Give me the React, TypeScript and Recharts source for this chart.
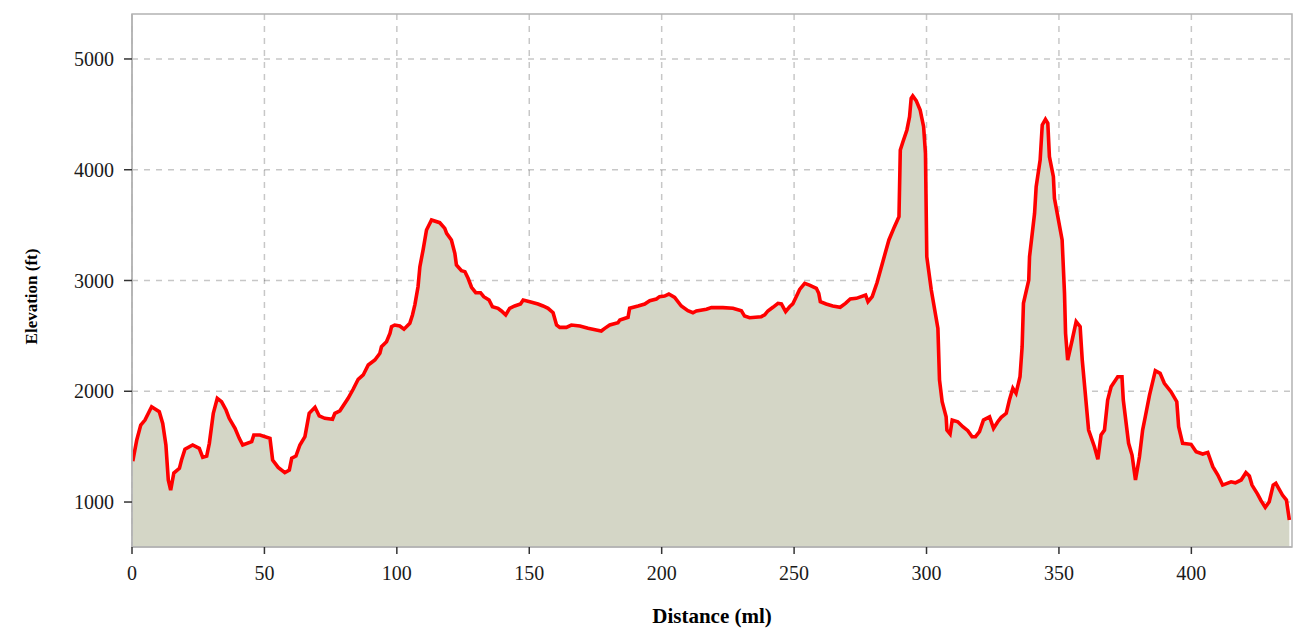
import React from "react";
import {
  AreaChart,
  Area,
  XAxis,
  YAxis,
  CartesianGrid,
  ReferenceArea,
} from "recharts";

// distance along the route (miles)
const distance = [
  0.3, 1.8, 3.3, 4.9, 7.4, 10.3, 11.6, 12.8, 13.7, 14.6, 15.8, 17.9, 18.7, 20.0,
  22.9, 25.4, 26.7, 28.2, 29.2, 30.7, 32.2, 33.8, 35.5, 36.7, 38.9, 40.5, 41.8,
  45.2, 46.0, 48.3, 52.1, 53.1, 55.2, 57.7, 59.4, 60.3, 61.9, 63.4, 65.3, 66.9,
  69.1, 70.7, 72.8, 75.7, 76.6, 78.5, 81.6, 83.5, 85.4, 87.3, 89.2, 91.7, 93.6,
  94.2, 96.1, 97.4, 98.0, 99.2, 101.1, 102.7, 104.9, 105.9, 106.8, 108.0, 108.7,
  109.9, 111.2, 113.1, 116.2, 118.1, 118.8, 120.6, 121.9, 122.5, 124.4, 125.7,
  126.9, 128.2, 129.8, 131.6, 132.8, 134.8, 136.1, 138.2, 139.5, 141.1, 142.6,
  144.5, 146.7, 147.7, 150.2, 153.3, 155.2, 157.1, 159.0, 160.3, 161.5, 164.0,
  165.9, 169.1, 172.2, 175.3, 177.2, 178.5, 180.4, 183.5, 184.2, 187.3, 187.9,
  191.1, 193.6, 195.5, 198.0, 199.2, 201.1, 202.7, 204.9, 207.4, 209.9, 211.8,
  213.1, 216.9, 218.8, 223.1, 226.9, 230.1, 231.3, 233.2, 237.6, 238.9, 240.1,
  242.0, 243.9, 245.2, 246.8, 248.3, 249.5, 250.8, 252.1, 254.0, 255.8, 258.4,
  259.3, 259.9, 262.1, 264.6, 267.4, 269.4, 271.2, 273.5, 277.0, 277.9, 279.5,
  281.3, 283.5, 285.8, 287.9, 289.6, 290.1, 291.1, 292.6, 293.6, 294.2, 294.8,
  296.1, 297.6, 298.9, 299.6, 300.1, 301.8, 304.3, 304.9, 305.9, 307.4, 307.7,
  308.9, 309.7, 311.8, 313.7, 315.6, 317.2, 318.5, 320.0, 321.5, 323.8, 325.3,
  326.9, 328.2, 330.1, 331.3, 332.6, 333.8, 335.3, 336.1, 336.6, 338.6, 338.9,
  340.8, 341.4, 342.9, 343.7, 344.9, 345.8, 346.4, 347.9, 348.3, 351.2, 352.1,
  352.5, 353.3, 355.0, 356.5, 358.0, 358.8, 361.2, 363.4, 364.7, 365.9, 367.2,
  368.4, 369.7, 372.2, 373.8, 374.3, 376.3, 377.6, 378.9, 380.4, 381.6, 382.6,
  384.2, 386.4, 388.2, 389.8, 392.3, 394.5, 395.2, 396.7, 399.9, 401.8, 404.3,
  406.2, 408.1, 410.0, 411.8, 415.0, 416.6, 418.8, 420.6, 421.9, 422.9, 425.0,
  426.3, 427.9, 429.4, 430.9, 431.9, 434.4, 435.9, 437.0,
];

// elevation (feet)
const elevation = [
  1370, 1560, 1695, 1740, 1860, 1815, 1710, 1515, 1199, 1108, 1262, 1304, 1379,
  1476, 1515, 1485, 1404, 1415, 1530, 1801, 1936, 1906, 1831, 1756, 1665, 1575,
  1515, 1545, 1605, 1605, 1575, 1379, 1313, 1265, 1289, 1395, 1415, 1515, 1590,
  1801, 1855, 1777, 1756, 1747, 1801, 1824, 1936, 2018, 2108, 2147, 2237, 2282,
  2343, 2402, 2447, 2523, 2583, 2598, 2589, 2560, 2613, 2689, 2780, 2944, 3125,
  3275, 3456, 3546, 3522, 3471, 3426, 3366, 3246, 3140, 3089, 3080, 3020, 2939,
  2890, 2890, 2854, 2824, 2763, 2749, 2725, 2689, 2749, 2770, 2788, 2824, 2809,
  2788, 2770, 2749, 2709, 2598, 2577, 2577, 2598, 2589, 2568, 2553, 2544, 2568,
  2598, 2619, 2643, 2668, 2749, 2770, 2788, 2818, 2833, 2854, 2860, 2878, 2848,
  2770, 2727, 2709, 2725, 2740, 2755, 2755, 2749, 2727, 2679, 2664, 2673, 2689,
  2725, 2758, 2794, 2788, 2719, 2763, 2788, 2854, 2920, 2975, 2959, 2930, 2885,
  2809, 2788, 2770, 2758, 2794, 2833, 2839, 2869, 2809, 2854, 2980, 3170, 3366,
  3486, 3576, 4178, 4253, 4359, 4479, 4645, 4666, 4624, 4540, 4389, 4148, 3215,
  2914, 2568, 2102, 1906, 1770, 1650, 1614, 1740, 1725, 1680, 1644, 1590, 1590,
  1635, 1740, 1770, 1665, 1725, 1765, 1801, 1921, 2027, 1982, 2131, 2402, 2794,
  3004, 3215, 3607, 3847, 4088, 4404, 4455, 4419, 4118, 3937, 3742, 3366, 2884,
  2523, 2282, 2463, 2628, 2583, 2282, 1650, 1499, 1386, 1605, 1650, 1921, 2041,
  2131, 2131, 1921, 1530, 1424, 1199, 1409, 1650, 1770, 1966, 2186, 2162, 2072,
  1996, 1906, 1680, 1530, 1521, 1454, 1433, 1448, 1319, 1244, 1153, 1183, 1174,
  1199, 1265, 1235, 1153, 1072, 1012, 952, 1003, 1153, 1169, 1063, 1018, 837,
];

const xTicks = [0, 50, 100, 150, 200, 250, 300, 350, 400];
const yTicks = [1000, 2000, 3000, 4000, 5000];
const xDomain = [0, 438];
const yDomain = [594, 5406];

const data = distance.map((d, i) => ({ dist: d, elev: elevation[i] }));

const font = "'Liberation Serif', 'Times New Roman', serif";

// y axis title, a bit below the middle of the plot like the original
const YTitle = (props: any) => {
  const { viewBox } = props;
  const cx = viewBox.x + 31;
  const cy = viewBox.y + viewBox.height / 2 + 16;
  return (
    <text
      x={cx}
      y={cy}
      transform={`rotate(-90, ${cx}, ${cy})`}
      textAnchor="middle"
      dominantBaseline="central"
      fontFamily={font}
      fontSize={17}
      fontWeight="bold"
      fill="#000"
    >
      Elevation (ft)
    </text>
  );
};

export default function App() {
  return (
    <div style={{ position: "absolute", left: 0, top: 0, background: "#fff" }}>
      <AreaChart
        width={1303}
        height={639}
        data={data}
        margin={{ top: 14, right: 11, left: 0, bottom: 0 }}
      >
        <XAxis
          dataKey="dist"
          type="number"
          domain={xDomain}
          ticks={xTicks}
          allowDataOverflow
          height={92}
          tickSize={7}
          tickMargin={12}
          axisLine={{ stroke: "#b3b3b3", strokeWidth: 1.5 }}
          tickLine={{ stroke: "#333", strokeWidth: 1.5 }}
          tick={{ fill: "#1a1a1a", fontSize: 20, fontFamily: font }}
          label={{
            value: "Distance (ml)",
            position: "insideBottom",
            offset: 16,
            style: {
              fontFamily: font,
              fontSize: 21,
              fontWeight: "bold",
              fill: "#000",
            },
          }}
        />
        <YAxis
          type="number"
          domain={yDomain}
          ticks={yTicks}
          allowDataOverflow
          width={132}
          tickSize={8}
          tickMargin={10}
          axisLine={{ stroke: "#b3b3b3", strokeWidth: 1.5 }}
          tickLine={{ stroke: "#333", strokeWidth: 1.5 }}
          tick={{ fill: "#1a1a1a", fontSize: 20, fontFamily: font }}
          label={{ content: YTitle }}
        />
        <Area
          type="linear"
          dataKey="elev"
          stroke="#ff0000"
          strokeWidth={3.6}
          fill="#d4d6c6"
          fillOpacity={1}
          isAnimationActive={false}
          dot={false}
          activeDot={false}
        />
        <CartesianGrid
          stroke="rgba(0,0,0,0.22)"
          strokeWidth={1.5}
          strokeDasharray="6 6"
          verticalValues={xTicks}
          horizontalValues={yTicks}
        />
        <ReferenceArea
          x1={xDomain[0]}
          x2={xDomain[1]}
          y1={yDomain[0]}
          y2={yDomain[1]}
          fill="none"
          stroke="#b3b3b3"
          strokeWidth={1.5}
          ifOverflow="visible"
        />
      </AreaChart>
    </div>
  );
}
